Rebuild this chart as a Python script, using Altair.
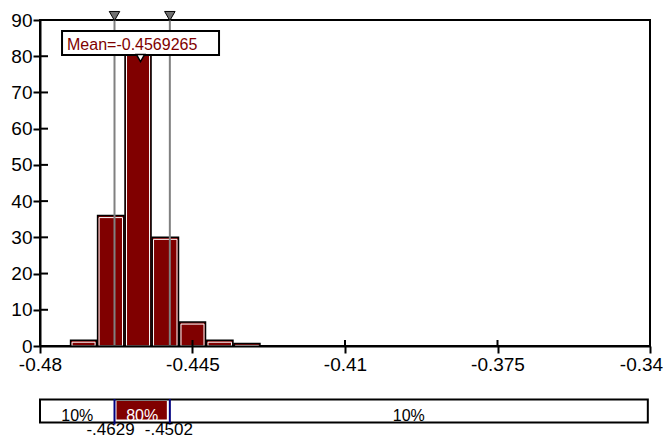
import altair as alt
import pandas as pd

# ---- data ----
bin_edges = [-0.4731, -0.4669, -0.4606, -0.4544, -0.4481, -0.4419, -0.4356, -0.4294]
densities = [1.6, 36.0, 83.5, 30.0, 6.6, 1.6, 0.7]
mean_value = -0.4569265
mean_label = "Mean=-0.4569265"
p_low = -0.4629
p_high = -0.4502
p_labels = ["-.4629", "-.4502"]
strip_labels = ["10%", "80%", "10%"]
x_min, x_max = -0.48, -0.34
strip_right = -0.3405
x_ticks = [-0.48, -0.445, -0.41, -0.375, -0.34]
x_tick_labels = ["-0.48", "-0.445", "-0.41", "-0.375", "-0.34"]
y_ticks = [0, 10, 20, 30, 40, 50, 60, 70, 80, 90]

RED = "#800000"
FONT = "Liberation Sans"

hist = pd.DataFrame({"lo": bin_edges[:-1], "hi": bin_edges[1:], "d": densities})
pcts = pd.DataFrame({"v": [p_low, p_high], "lab": p_labels})
mean_df = pd.DataFrame({"m": [mean_value], "lab": [mean_label]})
strip_df = pd.DataFrame({"a": [x_min], "b": [strip_right]})
seg_df = pd.DataFrame({"a": [p_low], "b": [p_high]})
strip_txt = pd.DataFrame({
    "x": [(x_min + p_low) / 2, (p_low + p_high) / 2, (p_high + strip_right) / 2],
    "lab": strip_labels,
    "c": ["black", "white", "black"],
})
xt = pd.DataFrame({"v": x_ticks})
yt = pd.DataFrame({"v": y_ticks[1:-1]})

xscale = alt.Scale(domain=[x_min, x_max], nice=False, zero=False)
yscale = alt.Scale(domain=[0, 90], nice=False)

label_expr = "[" + ",".join(f"'{s}'" for s in x_tick_labels) + "][indexof([" + \
    ",".join(str(v) for v in x_ticks) + "], datum.value)]"

xaxis = alt.Axis(values=x_ticks, labelExpr=label_expr, title=None, grid=False,
                 labelFlush=False, labelOverlap=False, labelPadding=2, zindex=1,
                 labelOffset=alt.condition(f"datum.value == {x_max}", alt.value(-9), alt.value(0)))
yaxis = alt.Axis(values=y_ticks, title=None, grid=False, labelPadding=1, zindex=1,
                 labelOverlap=False, labelFlush=False)


def X(f):
    return alt.X(f, scale=xscale, axis=xaxis)


def Y(f):
    return alt.Y(f, scale=yscale, axis=yaxis)


bars = alt.Chart(hist).mark_bar(fill=RED, stroke="black", strokeWidth=1.5,
                                xOffset=0.5, x2Offset=-0.5).encode(
    x=X("lo:Q"), x2="hi:Q", y=Y("d:Q"), y2=alt.datum(0),
)
bars_inner = alt.Chart(hist).mark_bar(filled=False, stroke="white", strokeWidth=1,
                                      xOffset=2, x2Offset=-2, yOffset=2).encode(
    x=X("lo:Q"), x2="hi:Q", y=Y("d:Q"), y2=alt.datum(0),
)

ytick_in = alt.Chart(yt).mark_rule(color="black", strokeWidth=2).encode(
    y=Y("v:Q"), x=alt.value(0), x2=alt.value(8))
xtick_in = alt.Chart(xt).mark_rule(color="black", strokeWidth=2).encode(
    x=X("v:Q"), y=alt.value(326), y2=alt.value(320))

vlines = alt.Chart(pcts).mark_rule(color="#808080", strokeWidth=2).encode(
    x=X("v:Q"), y=alt.value(0), y2=alt.value(326))
tri_top = alt.Chart(pcts).mark_point(shape="triangle-down", filled=True, fill="#707070",
                                     stroke="black", strokeWidth=1, size=110, opacity=1).encode(
    x=X("v:Q"), y=alt.value(-4))

box = alt.Chart(mean_df).mark_rect(fill="white", stroke="black", strokeWidth=2,
                                   xOffset=-78.5, x2Offset=78.5).encode(
    x=X("m:Q"), x2="m:Q", y=alt.value(11), y2=alt.value(35))
box_txt = alt.Chart(mean_df).mark_text(font=FONT, fontSize=16, color=RED, align="left",
                                       baseline="alphabetic", dx=-73.5).encode(
    x=X("m:Q"), y=alt.value(30), text="lab:N")
mean_tri = alt.Chart(mean_df).mark_point(shape="triangle-down", filled=True, fill="white",
                                         stroke="black", strokeWidth=1.5, size=70, opacity=1).encode(
    x=X("m:Q"), y=alt.value(38))

strip = alt.Chart(strip_df).mark_rect(fill="white", stroke="black", strokeWidth=2).encode(
    x=X("a:Q"), x2="b:Q", y=alt.value(379.5), y2=alt.value(402.5))
seg = alt.Chart(seg_df).mark_rect(fill=RED, xOffset=2, x2Offset=-3).encode(
    x=X("a:Q"), x2="b:Q", y=alt.value(381), y2=alt.value(399.5))
seg_lines = alt.Chart(pcts).mark_rule(color="#000080", strokeWidth=2).encode(
    x=X("v:Q"), y=alt.value(379), y2=alt.value(404.5))
strip_text = alt.Chart(strip_txt).mark_text(font=FONT, fontSize=16, baseline="alphabetic").encode(
    x=X("x:Q"), y=alt.value(400.5), text="lab:N", color=alt.Color("c:N", scale=None))

p_lab1 = alt.Chart(pcts.iloc[[0]]).mark_text(font=FONT, fontSize=17, baseline="alphabetic",
                                             align="center", dx=-4).encode(
    x=X("v:Q"), y=alt.value(415), text="lab:N")
p_lab2 = alt.Chart(pcts.iloc[[1]]).mark_text(font=FONT, fontSize=17, baseline="alphabetic",
                                             align="center", dx=-1).encode(
    x=X("v:Q"), y=alt.value(415), text="lab:N")

chart = alt.layer(
    bars, bars_inner, ytick_in, xtick_in, vlines, box, box_txt, mean_tri, tri_top,
    strip, seg, seg_lines, strip_text, p_lab1, p_lab2,
).properties(
    width=610, height=326,
    padding={"left": 32, "top": 12, "right": 13, "bottom": 92},
    autosize=alt.AutoSizeParams(type="none"),
).configure_view(
    stroke="black", strokeWidth=2
).configure_axis(
    domainColor="black", domainWidth=2, tickColor="black", tickWidth=2, tickSize=7,
    labelFont=FONT, labelFontSize=19, labelColor="black",
)

chart.save("out.html", embed_options={"renderer": "svg", "actions": False})
